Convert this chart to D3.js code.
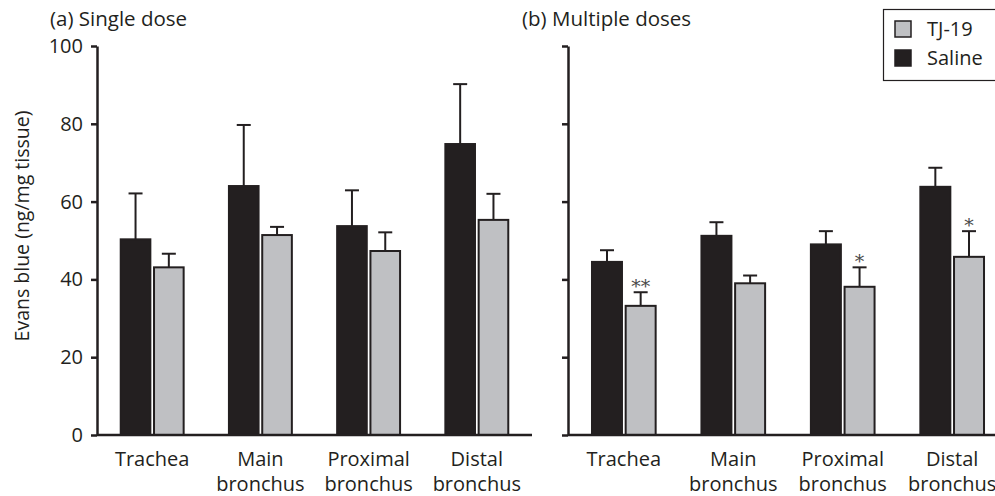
<!DOCTYPE html>
<html>
<head>
<meta charset="utf-8">
<script src="https://cdn.jsdelivr.net/npm/d3@7"></script>
<style>
  html, body { margin: 0; padding: 0; background: #fff; }
  svg { display: block; font-family: "Open Sans", "Noto Sans", sans-serif; }
</style>
</head>
<body>
<svg id="chart" width="995" height="496"></svg>
<script>
// Evans blue extravasation by airway region
const categories = ["Trachea", "Main bronchus", "Proximal bronchus", "Distal bronchus"];
const seriesNames = ["Saline", "TJ-19"];
const yTicks = [0, 20, 40, 60, 80, 100];

// (a) Single dose
const singleSaline = [50.3, 64.0, 53.7, 74.8];
const singleSalineErr = [11.8, 15.7, 9.2, 15.4];
const singleTJ19 = [43.1, 51.4, 47.3, 55.3];
const singleTJ19Err = [3.5, 2.1, 4.8, 6.7];
const singleSig = ["", "", "", ""];

// (b) Multiple doses
const multiSaline = [44.5, 51.2, 49.0, 63.8];
const multiSalineErr = [3.0, 3.5, 3.4, 4.9];
const multiTJ19 = [33.2, 39.0, 38.1, 45.8];
const multiTJ19Err = [3.5, 2.0, 5.0, 6.6];
const multiSig = ["**", "", "*", "*"];

const ink = "#231f20";
const colors = { "Saline": "#231f20", "TJ-19": "#bfc0c3" };
const fontSize = 20;

const svg = d3.select("#chart");
const y = d3.scaleLinear().domain([0, 100]).range([435, 46]);

function panel(opts) {
  const g = svg.append("g");
  const x = d3.scaleBand().domain(categories)
    .range([opts.x0, opts.x0 + opts.width])
    .paddingInner(0.4).paddingOuter(0.21);
  const xs = d3.scaleBand().domain(seriesNames)
    .range([0, x.bandwidth()]).paddingInner(0.05);

  const rows = [];
  categories.forEach((c, i) => {
    rows.push({ cat: c, s: "Saline", v: opts.saline[i], e: opts.salineErr[i], sig: "" });
    rows.push({ cat: c, s: "TJ-19", v: opts.tj[i], e: opts.tjErr[i], sig: opts.sig[i] });
  });

  // error bars (upper only), drawn beneath the bars
  const eb = g.append("g").attr("stroke", ink).attr("stroke-width", 2);
  rows.forEach(d => {
    const cx = x(d.cat) + xs(d.s) + xs.bandwidth() / 2;
    eb.append("line").attr("x1", cx).attr("x2", cx)
      .attr("y1", y(d.v)).attr("y2", y(d.v + d.e));
    eb.append("line").attr("x1", cx - 7).attr("x2", cx + 7)
      .attr("y1", y(d.v + d.e)).attr("y2", y(d.v + d.e));
  });

  // bars
  g.append("g").selectAll("rect").data(rows).join("rect")
    .attr("x", d => x(d.cat) + xs(d.s) + 1)
    .attr("width", xs.bandwidth() - 2)
    .attr("y", d => y(d.v))
    .attr("height", d => y(0) - y(d.v))
    .attr("fill", d => colors[d.s])
    .attr("stroke", ink)
    .attr("stroke-width", 2);

  // significance marks
  g.append("g").selectAll("text").data(rows.filter(d => d.sig)).join("text")
    .attr("x", d => x(d.cat) + xs(d.s) + xs.bandwidth() / 2)
    .attr("y", d => y(d.v + d.e) + 1)
    .attr("text-anchor", "middle")
    .attr("font-family", "'DejaVu Serif', 'Liberation Serif', serif")
    .attr("font-size", 19)
    .attr("fill", "#4a4a4a")
    .text(d => d.sig);

  // y axis
  const axis = d3.axisLeft(y).tickValues(yTicks).tickSize(6).tickSizeOuter(0).tickPadding(8);
  if (!opts.labels) axis.tickFormat("");
  const ag = g.append("g").attr("transform", `translate(${opts.x0},0)`).call(axis);
  ag.select(".domain").attr("stroke", ink).attr("stroke-width", 2.5);
  ag.selectAll(".tick line").attr("stroke", ink).attr("stroke-width", 2.5);
  ag.selectAll(".tick text").attr("fill", ink).attr("font-size", fontSize)
    .attr("font-family", "'Open Sans', sans-serif");

  // baseline
  g.append("line").attr("x1", opts.x0).attr("x2", opts.x0 + opts.width)
    .attr("y1", y(0)).attr("y2", y(0)).attr("stroke", ink).attr("stroke-width", 2.5);

  // category labels (split into two lines)
  const lab = g.append("g").attr("fill", ink).attr("font-size", fontSize).attr("text-anchor", "middle");
  categories.forEach(c => {
    const parts = c.split(" ");
    const t = lab.append("text").attr("x", x(c) + x.bandwidth() / 2).attr("y", 466);
    parts.forEach((p, k) => {
      t.append("tspan").attr("x", x(c) + x.bandwidth() / 2).attr("dy", k === 0 ? 0 : 25).text(p);
    });
  });

  // panel title
  svg.append("text").attr("x", opts.titleX).attr("y", 26)
    .attr("fill", ink).attr("font-size", 20.5).text(opts.title);
}

panel({ x0: 97, width: 435, saline: singleSaline, salineErr: singleSalineErr,
        tj: singleTJ19, tjErr: singleTJ19Err, sig: singleSig,
        labels: true, title: "(a) Single dose", titleX: 50 });
panel({ x0: 568, width: 440, saline: multiSaline, salineErr: multiSalineErr,
        tj: multiTJ19, tjErr: multiTJ19Err, sig: multiSig,
        labels: false, title: "(b) Multiple doses", titleX: 522 });

// y axis title
svg.append("text")
  .attr("transform", "translate(29,226) rotate(-90)")
  .attr("text-anchor", "middle").attr("fill", ink).attr("font-size", 19.5)
  .text("Evans blue (ng/mg tissue)");

// legend
const lg = svg.append("g");
lg.append("rect").attr("x", 883.5).attr("y", 9.5).attr("width", 120).attr("height", 71)
  .attr("fill", "#fff").attr("stroke", ink).attr("stroke-width", 1.2);
const legendItems = ["TJ-19", "Saline"];
legendItems.forEach((name, i) => {
  lg.append("rect").attr("x", 895).attr("y", 21 + i * 29).attr("width", 16).attr("height", 16)
    .attr("fill", colors[name]).attr("stroke", ink).attr("stroke-width", 1.5);
  lg.append("text").attr("x", 927).attr("y", 36 + i * 29)
    .attr("fill", ink).attr("font-size", fontSize).text(name);
});
</script>
</body>
</html>
